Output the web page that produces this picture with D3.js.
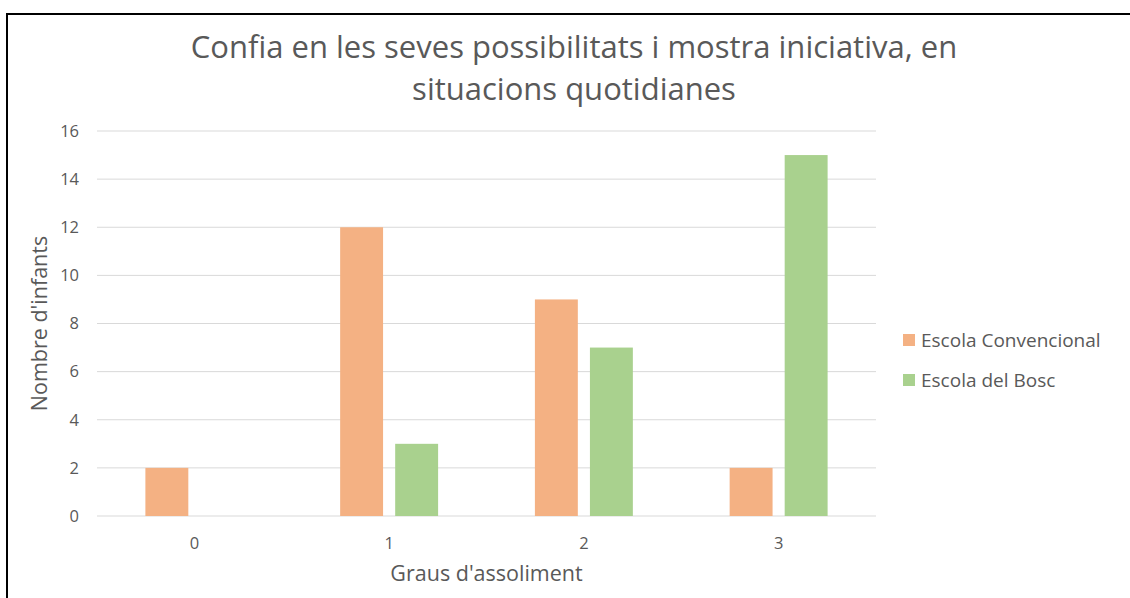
<!DOCTYPE html>
<html>
<head>
<meta charset="utf-8">
<script src="https://cdn.jsdelivr.net/npm/d3@7"></script>
<style>
  body { margin: 0; background: #fff; }
  svg { display: block; font-family: "Open Sans", "Noto Sans", sans-serif; }
</style>
</head>
<body>
<div id="container"></div>
<script>
const categories = ["0", "1", "2", "3"];
const seriesNames = ["Escola Convencional", "Escola del Bosc"];
const convencional = [2, 12, 9, 2];
const bosc = [0, 3, 7, 15];
const yTicks = [0, 2, 4, 6, 8, 10, 12, 14, 16];
const colors = ["#F4B183", "#A9D18E"];

const width = 1130, height = 598;
const plot = { left: 97, right: 876, top: 131, bottom: 516 };

const svg = d3.select("#container").append("svg")
    .attr("width", width)
    .attr("height", height);

// outer frame (cut off at right and bottom)
svg.append("path")
    .attr("d", `M7,${height + 5} L7,14 L${width + 5},14`)
    .attr("fill", "none")
    .attr("stroke", "#000")
    .attr("stroke-width", 2);

const rows = categories.map((c, i) => ({ cat: c, values: [convencional[i], bosc[i]] }));

const x0 = d3.scaleBand()
    .domain(categories)
    .range([plot.left, plot.right])
    .paddingInner(0.497)
    .paddingOuter(0.2485);

const x1 = d3.scaleBand()
    .domain(d3.range(seriesNames.length))
    .range([0, x0.bandwidth()])
    .paddingInner(0.22);

const y = d3.scaleLinear()
    .domain([0, 16])
    .range([plot.bottom, plot.top]);

// gridlines
svg.append("g")
    .selectAll("line")
    .data(yTicks)
    .join("line")
    .attr("x1", plot.left)
    .attr("x2", plot.right)
    .attr("y1", d => y(d))
    .attr("y2", d => y(d))
    .attr("stroke", "#D9D9D9")
    .attr("stroke-width", 1);

// y tick labels
svg.append("g")
    .selectAll("text")
    .data(yTicks)
    .join("text")
    .attr("x", 79)
    .attr("y", d => y(d))
    .attr("dy", "0.35em")
    .attr("text-anchor", "end")
    .attr("fill", "#595959")
    .attr("font-size", 16.5)
    .text(d => d);

// bars
const groups = svg.append("g")
    .selectAll("g")
    .data(rows)
    .join("g")
    .attr("transform", d => `translate(${x0(d.cat)},0)`);

groups.selectAll("rect")
    .data(d => d.values.map((v, i) => ({ v, i })))
    .join("rect")
    .attr("x", d => x1(d.i))
    .attr("width", x1.bandwidth())
    .attr("y", d => y(d.v))
    .attr("height", d => y(0) - y(d.v))
    .attr("fill", d => colors[d.i]);

// x tick labels
svg.append("g")
    .selectAll("text")
    .data(categories)
    .join("text")
    .attr("x", d => x0(d) + x0.bandwidth() / 2)
    .attr("y", 543)
    .attr("dy", "0.35em")
    .attr("text-anchor", "middle")
    .attr("fill", "#595959")
    .attr("font-size", 16.5)
    .text(d => d);

// axis titles
svg.append("text")
    .attr("x", (plot.left + plot.right) / 2)
    .attr("y", 581)
    .attr("text-anchor", "middle")
    .attr("fill", "#595959")
    .attr("font-size", 21.5)
    .text("Graus d'assoliment");

svg.append("text")
    .attr("transform", `translate(47,${(plot.top + plot.bottom) / 2}) rotate(-90)`)
    .attr("text-anchor", "middle")
    .attr("fill", "#595959")
    .attr("font-size", 21.5)
    .text("Nombre d'infants");

// title
const title = svg.append("text")
    .attr("text-anchor", "middle")
    .attr("fill", "#595959")
    .attr("font-size", 31);
title.append("tspan").attr("x", 574).attr("y", 58)
    .text("Confia en les seves possibilitats i mostra iniciativa, en");
title.append("tspan").attr("x", 574).attr("y", 100)
    .text("situacions quotidianes");

// legend
const legend = svg.append("g")
    .selectAll("g")
    .data(seriesNames)
    .join("g")
    .attr("transform", (d, i) => `translate(903,${340 + i * 40})`);

legend.append("rect")
    .attr("x", 0)
    .attr("y", -6)
    .attr("width", 12)
    .attr("height", 12)
    .attr("fill", (d, i) => colors[i]);

legend.append("text")
    .attr("x", 18)
    .attr("y", 0)
    .attr("dy", "0.35em")
    .attr("fill", "#595959")
    .attr("font-size", 19)
    .text(d => d);
</script>
</body>
</html>
